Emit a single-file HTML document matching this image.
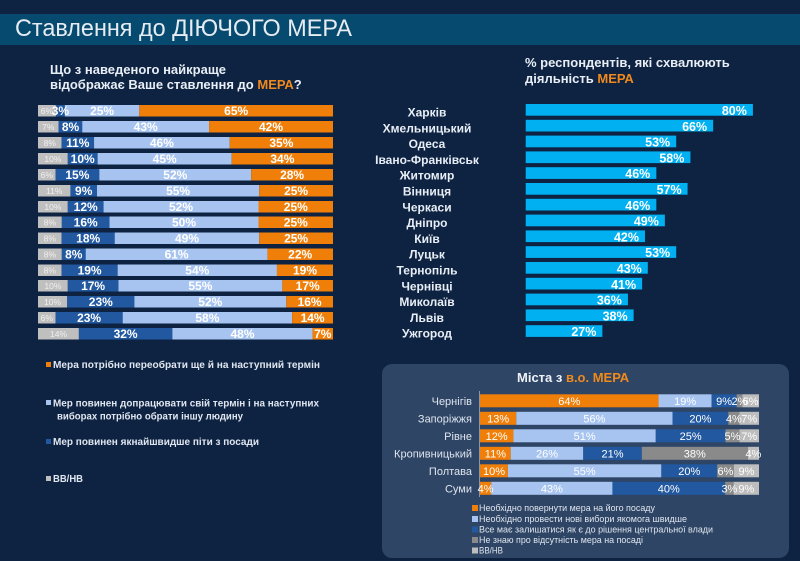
<!DOCTYPE html>
<html><head><meta charset="utf-8">
<style>
html,body{margin:0;padding:0;background:#0e2241;}
svg{display:block;font-family:"Liberation Sans","DejaVu Sans",sans-serif;}
.v{font-weight:bold;font-size:12px;fill:#fff;text-anchor:middle;}
.g{font-size:8.5px;fill:#f0f0f0;text-anchor:middle;}
.rl{font-weight:bold;font-size:12px;fill:#e8eef5;text-anchor:middle;}
.rv{font-weight:bold;font-size:12.5px;fill:#fff;text-anchor:end;}
.bl{font-size:11px;fill:#dfe5ee;text-anchor:end;}
.bv{font-size:11px;fill:#fff;text-anchor:middle;}
.lg{font-weight:bold;font-size:10.5px;fill:#dfe6f0;}
.bg{font-size:9.5px;fill:#dfe5ee;}
</style></head>
<body>
<svg width="800" height="561" viewBox="0 0 800 561" xmlns="http://www.w3.org/2000/svg">
<rect width="800" height="561" fill="#0e2241"/>
<rect x="0" y="14" width="800" height="31" fill="#074a6f"/>
<text x="15" y="36" font-size="24" fill="#e6ecf2" textLength="337" lengthAdjust="spacingAndGlyphs">Ставлення до ДІЮЧОГО МЕРА</text>

<text x="50" y="74" font-size="13" font-weight="bold" fill="#e8eef5">Що з наведеного найкраще</text>
<text x="50" y="89" font-size="13" font-weight="bold" fill="#e8eef5">відображає Ваше ставлення до <tspan fill="#f08a1c">МЕРА</tspan>?</text>

<text x="525" y="67" font-size="13" font-weight="bold" fill="#e8eef5">% респондентів, які схвалюють</text>
<text x="525" y="83" font-size="13" font-weight="bold" fill="#e8eef5">діяльність <tspan fill="#f08a1c">МЕРА</tspan></text>

<!-- LEFT CHART -->
<g>
<!-- row 1 -->
<rect x="38" y="105" width="17.88" height="11.5" fill="#bfbfbf"/><rect x="55.88" y="105" width="8.94" height="11.5" fill="#2158a0"/><rect x="64.82" y="105" width="74.49" height="11.5" fill="#a7c4f0"/><rect x="139.31" y="105" width="193.69" height="11.5" fill="#f07f09"/>
<text class="g" x="46.9" y="114">6%</text><text class="v" x="60.4" y="115">3%</text><text class="v" x="102.1" y="115">25%</text><text class="v" x="236.2" y="115">65%</text>
<!-- row 2 -->
<rect x="38" y="121" width="20.65" height="11.5" fill="#bfbfbf"/><rect x="58.65" y="121" width="23.6" height="11.5" fill="#2158a0"/><rect x="82.25" y="121" width="126.85" height="11.5" fill="#a7c4f0"/><rect x="209.1" y="121" width="123.9" height="11.5" fill="#f07f09"/>
<text class="g" x="48.3" y="130">7%</text><text class="v" x="70.5" y="131">8%</text><text class="v" x="145.7" y="131">43%</text><text class="v" x="271" y="131">42%</text>
<!-- row 3 -->
<rect x="38" y="137" width="23.6" height="11.5" fill="#bfbfbf"/><rect x="61.6" y="137" width="32.45" height="11.5" fill="#2158a0"/><rect x="94.05" y="137" width="135.7" height="11.5" fill="#a7c4f0"/><rect x="229.75" y="137" width="103.25" height="11.5" fill="#f07f09"/>
<text class="g" x="49.8" y="146">8%</text><text class="v" x="77.8" y="147">11%</text><text class="v" x="161.9" y="147">46%</text><text class="v" x="281.4" y="147">35%</text>
<!-- row 4 -->
<rect x="38" y="153" width="29.8" height="11.5" fill="#bfbfbf"/><rect x="67.8" y="153" width="29.8" height="11.5" fill="#2158a0"/><rect x="97.6" y="153" width="134.09" height="11.5" fill="#a7c4f0"/><rect x="231.69" y="153" width="101.31" height="11.5" fill="#f07f09"/>
<text class="g" x="52.9" y="162">10%</text><text class="v" x="82.7" y="163">10%</text><text class="v" x="164.7" y="163">45%</text><text class="v" x="282.4" y="163">34%</text>
<!-- row 5 -->
<rect x="38" y="169" width="17.52" height="11.5" fill="#bfbfbf"/><rect x="55.52" y="169" width="43.81" height="11.5" fill="#2158a0"/><rect x="99.33" y="169" width="151.88" height="11.5" fill="#a7c4f0"/><rect x="251.21" y="169" width="81.79" height="11.5" fill="#f07f09"/>
<text class="g" x="46.8" y="178">6%</text><text class="v" x="77.4" y="179">15%</text><text class="v" x="175.3" y="179">52%</text><text class="v" x="292.1" y="179">28%</text>
<!-- row 6 -->
<rect x="38" y="185" width="32.45" height="11.5" fill="#bfbfbf"/><rect x="70.45" y="185" width="26.55" height="11.5" fill="#2158a0"/><rect x="97" y="185" width="162.25" height="11.5" fill="#a7c4f0"/><rect x="259.25" y="185" width="73.75" height="11.5" fill="#f07f09"/>
<text class="g" x="54.2" y="194">11%</text><text class="v" x="83.7" y="195">9%</text><text class="v" x="178.1" y="195">55%</text><text class="v" x="296.1" y="195">25%</text>
<!-- row 7 -->
<rect x="38" y="201" width="29.8" height="11.5" fill="#bfbfbf"/><rect x="67.8" y="201" width="35.76" height="11.5" fill="#2158a0"/><rect x="103.56" y="201" width="154.95" height="11.5" fill="#a7c4f0"/><rect x="258.51" y="201" width="74.49" height="11.5" fill="#f07f09"/>
<text class="g" x="52.9" y="210">10%</text><text class="v" x="85.7" y="211">12%</text><text class="v" x="181" y="211">52%</text><text class="v" x="295.8" y="211">25%</text>
<!-- row 8 -->
<rect x="38" y="216.5" width="23.84" height="11.5" fill="#bfbfbf"/><rect x="61.84" y="216.5" width="47.68" height="11.5" fill="#2158a0"/><rect x="109.52" y="216.5" width="148.99" height="11.5" fill="#a7c4f0"/><rect x="258.51" y="216.5" width="74.49" height="11.5" fill="#f07f09"/>
<text class="g" x="49.9" y="225.5">8%</text><text class="v" x="85.7" y="226.5">16%</text><text class="v" x="184" y="226.5">50%</text><text class="v" x="295.8" y="226.5">25%</text>
<!-- row 9 -->
<rect x="38" y="232.5" width="23.6" height="11.5" fill="#bfbfbf"/><rect x="61.6" y="232.5" width="53.1" height="11.5" fill="#2158a0"/><rect x="114.7" y="232.5" width="144.55" height="11.5" fill="#a7c4f0"/><rect x="259.25" y="232.5" width="73.75" height="11.5" fill="#f07f09"/>
<text class="g" x="49.8" y="241.5">8%</text><text class="v" x="88.2" y="242.5">18%</text><text class="v" x="187" y="242.5">49%</text><text class="v" x="296.1" y="242.5">25%</text>
<!-- row 10 -->
<rect x="38" y="248.5" width="23.84" height="11.5" fill="#bfbfbf"/><rect x="61.84" y="248.5" width="23.84" height="11.5" fill="#2158a0"/><rect x="85.68" y="248.5" width="181.77" height="11.5" fill="#a7c4f0"/><rect x="267.45" y="248.5" width="65.55" height="11.5" fill="#f07f09"/>
<text class="g" x="49.9" y="257.5">8%</text><text class="v" x="73.8" y="258.5">8%</text><text class="v" x="176.6" y="258.5">61%</text><text class="v" x="300.2" y="258.5">22%</text>
<!-- row 11 -->
<rect x="38" y="264.5" width="23.6" height="11.5" fill="#bfbfbf"/><rect x="61.6" y="264.5" width="56.05" height="11.5" fill="#2158a0"/><rect x="117.65" y="264.5" width="159.3" height="11.5" fill="#a7c4f0"/><rect x="276.95" y="264.5" width="56.05" height="11.5" fill="#f07f09"/>
<text class="g" x="49.8" y="273.5">8%</text><text class="v" x="89.6" y="274.5">19%</text><text class="v" x="197.3" y="274.5">54%</text><text class="v" x="305" y="274.5">19%</text>
<!-- row 12 -->
<rect x="38" y="280" width="29.8" height="11.5" fill="#bfbfbf"/><rect x="67.8" y="280" width="50.66" height="11.5" fill="#2158a0"/><rect x="118.46" y="280" width="163.89" height="11.5" fill="#a7c4f0"/><rect x="282.35" y="280" width="50.65" height="11.5" fill="#f07f09"/>
<text class="g" x="52.9" y="289">10%</text><text class="v" x="93.1" y="290">17%</text><text class="v" x="200.4" y="290">55%</text><text class="v" x="307.7" y="290">17%</text>
<!-- row 13 -->
<rect x="38" y="296" width="29.21" height="11.5" fill="#bfbfbf"/><rect x="67.21" y="296" width="67.18" height="11.5" fill="#2158a0"/><rect x="134.39" y="296" width="151.88" height="11.5" fill="#a7c4f0"/><rect x="286.27" y="296" width="46.73" height="11.5" fill="#f07f09"/>
<text class="g" x="52.6" y="305">10%</text><text class="v" x="100.8" y="306">23%</text><text class="v" x="210.3" y="306">52%</text><text class="v" x="309.6" y="306">16%</text>
<!-- row 14 -->
<rect x="38" y="312" width="17.52" height="11.5" fill="#bfbfbf"/><rect x="55.52" y="312" width="67.18" height="11.5" fill="#2158a0"/><rect x="122.7" y="312" width="169.41" height="11.5" fill="#a7c4f0"/><rect x="292.11" y="312" width="40.89" height="11.5" fill="#f07f09"/>
<text class="g" x="46.8" y="321">6%</text><text class="v" x="89.1" y="322">23%</text><text class="v" x="207.4" y="322">58%</text><text class="v" x="312.6" y="322">14%</text>
<!-- row 15 -->
<rect x="38" y="328" width="40.89" height="11.5" fill="#bfbfbf"/><rect x="78.89" y="328" width="93.47" height="11.5" fill="#2158a0"/><rect x="172.36" y="328" width="140.2" height="11.5" fill="#a7c4f0"/><rect x="312.56" y="328" width="20.44" height="11.5" fill="#f07f09"/>
<text class="g" x="58.5" y="337">14%</text><text class="v" x="125.6" y="338">32%</text><text class="v" x="242.5" y="338">48%</text><text class="v" x="322.8" y="338">7%</text>
</g>

<!-- LEFT LEGEND -->
<rect x="46" y="362" width="5" height="5" fill="#f07f09"/>
<text class="lg" x="53" y="368" textLength="267" lengthAdjust="spacingAndGlyphs">Мера  потрібно переобрати ще й на наступний термін</text>
<rect x="46" y="400" width="5" height="5" fill="#a7c4f0"/>
<text class="lg" x="53" y="406.5" textLength="266" lengthAdjust="spacingAndGlyphs">Мер повинен допрацювати свій термін і на наступних</text>
<text class="lg" x="57" y="419.5" textLength="186" lengthAdjust="spacingAndGlyphs">виборах потрібно обрати іншу людину</text>
<rect x="46" y="439" width="5" height="5" fill="#2158a0"/>
<text class="lg" x="53" y="445" textLength="206" lengthAdjust="spacingAndGlyphs">Мер повинен якнайшвидше піти з посади</text>
<rect x="46" y="476" width="5" height="5" fill="#bfbfbf"/>
<text class="lg" x="53" y="482" textLength="30" lengthAdjust="spacingAndGlyphs">ВВ/НВ</text>

<!-- RIGHT CHART -->
<g fill="#00b0f0">
<rect x="525.7" y="104" width="227.2" height="11.7"/>
<rect x="525.7" y="119.8" width="187.44" height="11.7"/>
<rect x="525.7" y="135.6" width="150.52" height="11.7"/>
<rect x="525.7" y="151.4" width="164.72" height="11.7"/>
<rect x="525.7" y="167.2" width="130.64" height="11.7"/>
<rect x="525.7" y="183" width="161.88" height="11.7"/>
<rect x="525.7" y="198.8" width="130.64" height="11.7"/>
<rect x="525.7" y="214.6" width="139.16" height="11.7"/>
<rect x="525.7" y="230.4" width="119.28" height="11.7"/>
<rect x="525.7" y="246.2" width="150.52" height="11.7"/>
<rect x="525.7" y="262" width="122.12" height="11.7"/>
<rect x="525.7" y="277.8" width="116.44" height="11.7"/>
<rect x="525.7" y="293.6" width="102.24" height="11.7"/>
<rect x="525.7" y="309.4" width="107.92" height="11.7"/>
<rect x="525.7" y="325.2" width="76.68" height="11.7"/>
</g>
<text class="rv" x="746.9" y="115">80%</text>
<text class="rv" x="707.1" y="130.8">66%</text>
<text class="rv" x="670.2" y="146.6">53%</text>
<text class="rv" x="684.4" y="162.4">58%</text>
<text class="rv" x="650.3" y="178.2">46%</text>
<text class="rv" x="681.6" y="194">57%</text>
<text class="rv" x="650.3" y="209.8">46%</text>
<text class="rv" x="658.9" y="225.6">49%</text>
<text class="rv" x="639" y="241.4">42%</text>
<text class="rv" x="670.2" y="257.2">53%</text>
<text class="rv" x="641.8" y="273">43%</text>
<text class="rv" x="636.1" y="288.8">41%</text>
<text class="rv" x="621.9" y="304.6">36%</text>
<text class="rv" x="627.6" y="320.4">38%</text>
<text class="rv" x="596.4" y="336.2">27%</text>

<text class="rl" x="427" y="116.5">Харків</text>
<text class="rl" x="427" y="132.3">Хмельницький</text>
<text class="rl" x="427" y="148.1">Одеса</text>
<text class="rl" x="427" y="163.9">Івано-Франківськ</text>
<text class="rl" x="427" y="179.7">Житомир</text>
<text class="rl" x="427" y="195.5">Вінниця</text>
<text class="rl" x="427" y="211.3">Черкаси</text>
<text class="rl" x="427" y="227.1">Дніпро</text>
<text class="rl" x="427" y="242.9">Київ</text>
<text class="rl" x="427" y="258.7">Луцьк</text>
<text class="rl" x="427" y="274.5">Тернопіль</text>
<text class="rl" x="427" y="290.3">Чернівці</text>
<text class="rl" x="427" y="306.1">Миколаїв</text>
<text class="rl" x="427" y="321.9">Львів</text>
<text class="rl" x="427" y="337.7">Ужгород</text>

<!-- BOTTOM BOX -->
<rect x="382" y="364" width="407" height="194" rx="10" ry="10" fill="#2e4565"/>
<text x="517" y="382" font-size="13" font-weight="bold" fill="#eef2f7">Міста з <tspan fill="#f08a1c">в.о. МЕРА</tspan></text>
<line x1="479.5" y1="391" x2="479.5" y2="497" stroke="#8a97aa" stroke-width="1"/>

<!-- Chernihiv -->
<rect x="480" y="394.3" width="178.56" height="13" fill="#f07f09"/><rect x="658.56" y="394.3" width="53.01" height="13" fill="#a7c4f0"/><rect x="711.57" y="394.3" width="25.11" height="13" fill="#2158a0"/><rect x="736.68" y="394.3" width="5.58" height="13" fill="#8a8a8a"/><rect x="742.26" y="394.3" width="16.74" height="13" fill="#bdbdbd"/>
<text class="bl" x="472" y="404.8">Чернігів</text>
<text class="bv" x="569.3" y="404.8">64%</text><text class="bv" x="685.1" y="404.8">19%</text><text class="bv" x="724.1" y="404.8">9%</text><text class="bv" x="739.5" y="404.8">2%</text><text class="bv" x="750.6" y="404.8">6%</text>
<!-- Zaporizhzhia -->
<rect x="480" y="411.8" width="36.27" height="13" fill="#f07f09"/><rect x="516.27" y="411.8" width="156.24" height="13" fill="#a7c4f0"/><rect x="672.51" y="411.8" width="55.8" height="13" fill="#2158a0"/><rect x="728.31" y="411.8" width="11.16" height="13" fill="#8a8a8a"/><rect x="739.47" y="411.8" width="19.53" height="13" fill="#bdbdbd"/>
<text class="bl" x="472" y="422.3">Запоріжжя</text>
<text class="bv" x="498.1" y="422.3">13%</text><text class="bv" x="594.4" y="422.3">56%</text><text class="bv" x="700.4" y="422.3">20%</text><text class="bv" x="733.9" y="422.3">4%</text><text class="bv" x="749.2" y="422.3">7%</text>
<!-- Rivne -->
<rect x="480" y="429.3" width="33.48" height="13" fill="#f07f09"/><rect x="513.48" y="429.3" width="142.29" height="13" fill="#a7c4f0"/><rect x="655.77" y="429.3" width="69.75" height="13" fill="#2158a0"/><rect x="725.52" y="429.3" width="13.95" height="13" fill="#8a8a8a"/><rect x="739.47" y="429.3" width="19.53" height="13" fill="#bdbdbd"/>
<text class="bl" x="472" y="439.8">Рівне</text>
<text class="bv" x="496.7" y="439.8">12%</text><text class="bv" x="584.6" y="439.8">51%</text><text class="bv" x="690.6" y="439.8">25%</text><text class="bv" x="732.5" y="439.8">5%</text><text class="bv" x="749.2" y="439.8">7%</text>
<!-- Kropyvnytskyi -->
<rect x="480" y="446.8" width="30.69" height="13" fill="#f07f09"/><rect x="510.69" y="446.8" width="72.54" height="13" fill="#a7c4f0"/><rect x="583.23" y="446.8" width="58.59" height="13" fill="#2158a0"/><rect x="641.82" y="446.8" width="106.02" height="13" fill="#8a8a8a"/><rect x="747.84" y="446.8" width="11.16" height="13" fill="#bdbdbd"/>
<text class="bl" x="472" y="457.3">Кропивницький</text>
<text class="bv" x="495.4" y="457.3">11%</text><text class="bv" x="547" y="457.3">26%</text><text class="bv" x="612.5" y="457.3">21%</text><text class="bv" x="694.8" y="457.3">38%</text><text class="bv" x="753.4" y="457.3">4%</text>
<!-- Poltava -->
<rect x="480" y="464.3" width="27.9" height="13" fill="#f07f09"/><rect x="507.9" y="464.3" width="153.45" height="13" fill="#a7c4f0"/><rect x="661.35" y="464.3" width="55.8" height="13" fill="#2158a0"/><rect x="717.15" y="464.3" width="16.74" height="13" fill="#8a8a8a"/><rect x="733.89" y="464.3" width="25.11" height="13" fill="#bdbdbd"/>
<text class="bl" x="472" y="474.8">Полтава</text>
<text class="bv" x="494" y="474.8">10%</text><text class="bv" x="584.6" y="474.8">55%</text><text class="bv" x="689.3" y="474.8">20%</text><text class="bv" x="725.5" y="474.8">6%</text><text class="bv" x="746.5" y="474.8">9%</text>
<!-- Sumy -->
<rect x="480" y="481.8" width="11.27" height="13" fill="#f07f09"/><rect x="491.27" y="481.8" width="121.18" height="13" fill="#a7c4f0"/><rect x="612.45" y="481.8" width="112.73" height="13" fill="#2158a0"/><rect x="725.18" y="481.8" width="8.45" height="13" fill="#8a8a8a"/><rect x="733.63" y="481.8" width="25.37" height="13" fill="#bdbdbd"/>
<text class="bl" x="472" y="492.3">Суми</text>
<text class="bv" x="485.6" y="492.3">4%</text><text class="bv" x="551.9" y="492.3">43%</text><text class="bv" x="668.8" y="492.3">40%</text><text class="bv" x="729.4" y="492.3">3%</text><text class="bv" x="746.3" y="492.3">9%</text>

<!-- box legend -->
<rect x="472" y="505" width="6" height="6" fill="#f07f09"/>
<text class="bg" x="479" y="511" textLength="176" lengthAdjust="spacingAndGlyphs">Необхідно повернути мера на його посаду</text>
<rect x="472" y="516" width="6" height="6" fill="#a7c4f0"/>
<text class="bg" x="479" y="522" textLength="208" lengthAdjust="spacingAndGlyphs">Необхідно провести нові вибори якомога швидше</text>
<rect x="472" y="526.5" width="6" height="6" fill="#2158a0"/>
<text class="bg" x="479" y="532.5" textLength="234" lengthAdjust="spacingAndGlyphs">Все має залишатися як є до рішення центральної влади</text>
<rect x="472" y="537" width="6" height="6" fill="#8a8a8a"/>
<text class="bg" x="479" y="543" textLength="164" lengthAdjust="spacingAndGlyphs">Не знаю про відсутність мера на посаді</text>
<rect x="472" y="547.5" width="6" height="6" fill="#bdbdbd"/>
<text class="bg" x="479" y="553.5" textLength="24" lengthAdjust="spacingAndGlyphs">ВВ/НВ</text>
</svg>
</body></html>
